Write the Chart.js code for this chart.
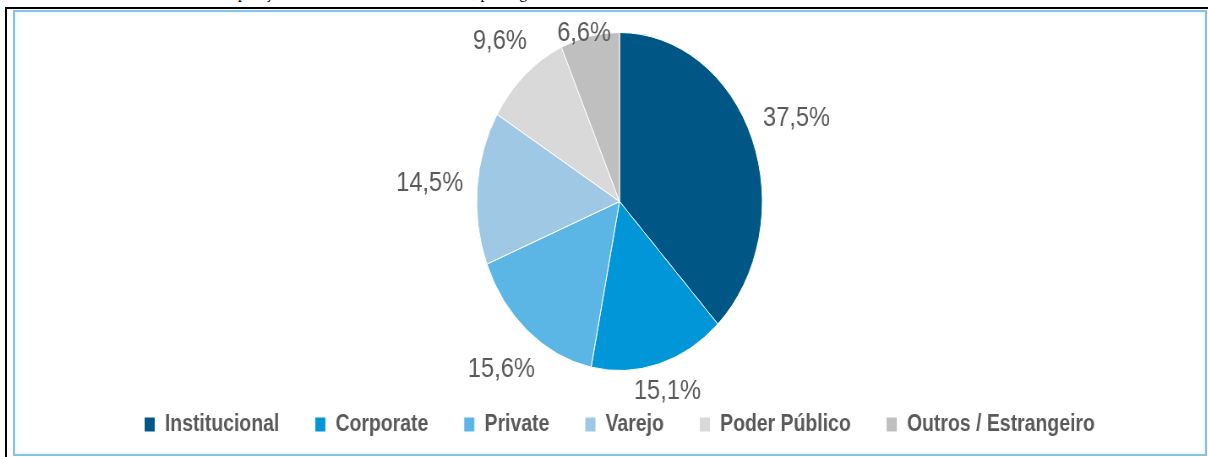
<!DOCTYPE html>
<html>
<head>
<meta charset="utf-8">
<script src="https://cdn.jsdelivr.net/npm/chart.js@4"></script>
<style>
  body { margin: 0; width: 1208px; height: 457px; overflow: hidden; background: #fff; position: relative; }
  #caption { position: absolute; left: 130px; top: -15px; font: 16px "Liberation Serif", serif; line-height: 16px; white-space: nowrap; color: #000; }
  #outer { position: absolute; left: 5px; top: 7px; width: 1220px; height: 470px; border-left: 2px solid #000; border-top: 2px solid #000; }
  #frame { position: absolute; left: 13px; top: 10px; width: 1194px; height: 446px; box-sizing: border-box; border: 2px solid #86c3df; box-shadow: inset 0 0 5px #dff1f9; }
  #wrap { position: absolute; left: 28px; top: 0; width: 1400px; height: 457px; transform: scaleX(0.845); transform-origin: 0 0; }
</style>
</head>
<body>
<div id="caption">Gráfico 4 – Composição da base de clientes do banco, por segmento</div>
<div id="outer"></div>
<div id="frame"></div>
<div id="wrap"><canvas id="pieChart" width="1400" height="457"></canvas></div>
<script>
  const categories = ['Institucional', 'Corporate', 'Private', 'Varejo', 'Poder Público', 'Outros / Estrangeiro'];
  const shares = [37.5, 15.1, 15.6, 14.5, 9.6, 6.6];
  const sliceColors = ['#005785', '#0096d8', '#5bb6e6', '#9fc8e4', '#d9d9d9', '#bfbfbf'];

  // percent labels placed just outside each slice, kept clear of the legend
  const outsideLabels = {
    id: 'outsideLabels',
    afterDatasetsDraw(chart) {
      const ctx = chart.ctx;
      const meta = chart.getDatasetMeta(0);
      const area = chart.chartArea;
      ctx.save();
      ctx.font = '28px "Liberation Sans", Arial, sans-serif';
      ctx.fillStyle = '#595959';
      ctx.textAlign = 'center';
      ctx.textBaseline = 'middle';
      meta.data.forEach((arc, i) => {
        const p = arc.getProps(['x', 'y', 'startAngle', 'endAngle', 'outerRadius'], true);
        const mid = (p.startAngle + p.endAngle) / 2;
        const text = shares[i].toFixed(1).replace('.', ',') + '%';
        const tw = ctx.measureText(text).width;
        const th = 20;
        const cos = Math.cos(mid), sin = Math.sin(mid);
        const r = p.outerRadius + 16 + Math.abs(cos) * tw / 2 + Math.abs(sin) * th / 2;
        const lx = p.x + cos * r;
        let ly = p.y + sin * r;
        ly = Math.min(Math.max(ly, area.top + 1), area.bottom + 20);
        ctx.fillText(text, lx, ly);
      });
      ctx.restore();
    }
  };

  const ctx = document.getElementById('pieChart').getContext('2d');
  new Chart(ctx, {
    type: 'pie',
    data: {
      labels: categories,
      datasets: [{
        data: shares,
        backgroundColor: sliceColors,
        borderColor: '#ffffff',
        borderWidth: 1
      }]
    },
    options: {
      responsive: false,
      animation: false,
      layout: { padding: { top: 32, bottom: 11, left: 0, right: 0 } },
      plugins: {
        tooltip: { enabled: false },
        legend: {
          position: 'bottom',
          labels: {
            color: '#595959',
            font: { family: '"Liberation Sans", Arial, sans-serif', size: 23, weight: 'bold' },
            boxWidth: 13,
            boxHeight: 15,
            padding: 42
          }
        }
      }
    },
    plugins: [outsideLabels]
  });
</script>
</body>
</html>
